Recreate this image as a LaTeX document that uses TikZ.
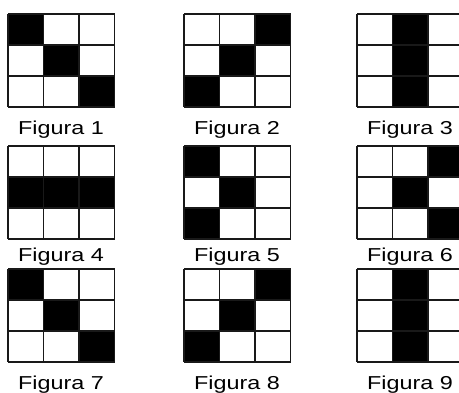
\documentclass[tikz,border=0pt]{standalone}
\usepackage{fontspec}
\newfontfamily\labfont[FakeStretch=1.25]{Liberation Sans}
\tikzset{
  gridline/.style={draw=black!90, line width=1.3pt},
  cellfill/.style={fill=black},
  lab/.style={anchor=base, inner sep=0pt, font=\labfont\fontsize{18.7}{20}\selectfont, text=black}
}
\newcommand\figgrid[3]{%
  \foreach \c/\r in {#3} {\fill[cellfill] ({#1+\c*35.5},{#2+\r*31}) rectangle ++(35.5,31);}
  \foreach \i in {0,...,3} {
    \draw[gridline] ({#1+\i*35.5},#2) -- ++(0,93);
    \draw[gridline] (#1,{#2+\i*31}) -- ++(106.5,0);
  }%
}
\begin{document}
\begin{tikzpicture}[x=1pt,y=-1pt]
\useasboundingbox (0,0) rectangle (459,392);
\clip (0,0) rectangle (459,392);
\fill[white] (0,0) rectangle (459,392);
% row 1
\figgrid{8}{14}{0/0,1/1,2/2}
\figgrid{184}{14}{2/0,1/1,0/2}
\figgrid{357}{14}{1/0,1/1,1/2}
% row 2
\figgrid{8}{146}{0/1,1/1,2/1}
\figgrid{184}{146}{0/0,1/1,0/2}
\figgrid{357}{146}{2/0,1/1,2/2}
% row 3
\figgrid{8}{269}{0/0,1/1,2/2}
\figgrid{184}{269}{2/0,1/1,0/2}
\figgrid{357}{269}{1/0,1/1,1/2}
% labels
\node[lab] (l1) at (61,134.7) {Figura 1};
\node[lab] (l2) at (237,134.7) {Figura 2};
\node[lab] (l3) at (410,134.7) {Figura 3};
\node[lab] (l4) at (61,261.7) {Figura 4};
\node[lab] (l5) at (237,261.7) {Figura 5};
\node[lab] (l6) at (410,261.7) {Figura 6};
\node[lab] (l7) at (61,389.5) {Figura 7};
\node[lab] (l8) at (237,389.5) {Figura 8};
\node[lab] (l9) at (410,389.5) {Figura 9};
\end{tikzpicture}
\end{document}
